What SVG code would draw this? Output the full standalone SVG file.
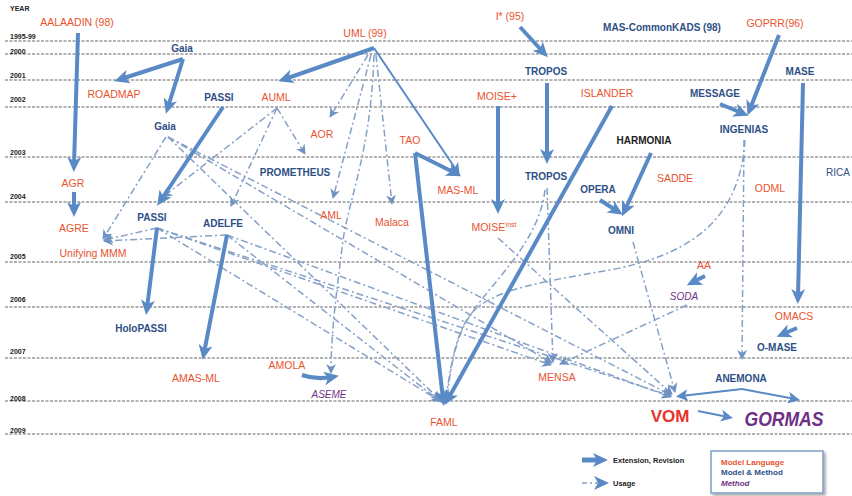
<svg xmlns="http://www.w3.org/2000/svg" width="852" height="496" viewBox="0 0 852 496">
  <style>
    .yr { stroke: #555; stroke-width: 0.9; stroke-dasharray: 3 1.5; fill: none; }
    .yl { font-family: "Liberation Sans", Arial, sans-serif; font-size: 7px; font-weight: bold; fill: #222; }
    .ml { font-family: "Liberation Sans", Arial, sans-serif; font-size: 10.5px; fill: #e8532f; text-anchor: middle; }
    .mm { font-family: "Liberation Sans", Arial, sans-serif; font-size: 10px; font-weight: bold; fill: #2e4f86; text-anchor: middle; }
    .mt { font-family: "Liberation Sans", Arial, sans-serif; font-size: 10px; font-style: italic; fill: #6f2f86; text-anchor: middle; }
    .bk { font-family: "Liberation Sans", Arial, sans-serif; font-size: 10px; font-weight: bold; fill: #222; text-anchor: middle; }
    .ext { stroke: #5a8ac6; stroke-width: 4; fill: none; marker-end: url(#ah); }
    .ext2 { stroke: #5a8ac6; stroke-width: 2; fill: none; marker-end: url(#ah2); }
    .use { stroke: #86a1c8; stroke-width: 1.5; stroke-dasharray: 7 3 2 3; fill: none; marker-end: url(#dh); }
    .lg { font-family: "Liberation Sans", Arial, sans-serif; font-size: 7.5px; font-weight: bold; fill: #222; }
    .lb { font-family: "Liberation Sans", Arial, sans-serif; font-size: 8px; font-weight: bold; }
  </style>
  <defs>
    <marker id="ah" markerUnits="userSpaceOnUse" markerWidth="16" markerHeight="14" refX="8" refY="7" orient="auto">
      <path d="M0,0 L15,7 L0,14 L4,7 z" fill="#5a8ac6"/>
    </marker>
    <marker id="ah2" markerUnits="userSpaceOnUse" markerWidth="13" markerHeight="12" refX="7" refY="6" orient="auto">
      <path d="M0,0 L12,6 L0,12 L3,6 z" fill="#5a8ac6"/>
    </marker>
    <marker id="dh" markerUnits="userSpaceOnUse" markerWidth="11" markerHeight="10" refX="9" refY="5" orient="auto">
      <path d="M0,0 L10,5 L0,10 L3,5 z" fill="#6f92c2"/>
    </marker>
    <filter id="sh" x="-10%" y="-10%" width="130%" height="130%">
      <feGaussianBlur in="SourceAlpha" stdDeviation="1.5"/>
      <feOffset dx="1.5" dy="1.5"/>
      <feComponentTransfer><feFuncA type="linear" slope="0.35"/></feComponentTransfer>
      <feMerge><feMergeNode/><feMergeNode in="SourceGraphic"/></feMerge>
    </filter>
  </defs>
  <rect width="852" height="496" fill="#fff"/>

  <!-- time axis -->
  <g id="years">
    <text class="yl" x="10" y="11">YEAR</text>
    <line class="yr" x1="5" y1="41" x2="852" y2="41"/>
    <line class="yr" x1="5" y1="54" x2="852" y2="54"/>
    <line class="yr" x1="5" y1="80" x2="852" y2="80"/>
    <line class="yr" x1="5" y1="107" x2="852" y2="107"/>
    <line class="yr" x1="5" y1="157" x2="852" y2="157"/>
    <line class="yr" x1="5" y1="202" x2="852" y2="202"/>
    <line class="yr" x1="5" y1="262" x2="852" y2="262"/>
    <line class="yr" x1="5" y1="307" x2="852" y2="307"/>
    <line class="yr" x1="5" y1="358" x2="852" y2="358"/>
    <line class="yr" x1="5" y1="401" x2="852" y2="401"/>
    <line class="yr" x1="5" y1="434" x2="852" y2="434"/>
    <text class="yl" x="10" y="39">1995-99</text>
    <text class="yl" x="10" y="54">2000</text>
    <text class="yl" x="10" y="78">2001</text>
    <text class="yl" x="10" y="102">2002</text>
    <text class="yl" x="10" y="155">2003</text>
    <text class="yl" x="10" y="199">2004</text>
    <text class="yl" x="10" y="259">2005</text>
    <text class="yl" x="10" y="302">2006</text>
    <text class="yl" x="10" y="354">2007</text>
    <text class="yl" x="10" y="401">2008</text>
    <text class="yl" x="10" y="433">2009</text>
  </g>

  <!-- connectors -->
  <g id="connectors">
    <!-- usage (dash-dot) -->
    <path class="use" d="M368,55 L330,117"/>
    <path class="use" d="M371,55 L333,198"/>
    <path class="use" d="M376,55 L392,204"/>
    <path class="use" d="M374,55 C371,150 350,195 343,240 C337,290 331,330 331,373"/>
    <path class="use" d="M277,108 L305,154"/>
    <path class="use" d="M277,108 L231,206"/>
    <path class="use" d="M277,108 L163,197"/>
    <path class="use" d="M166,137 L103,239"/>
    <path class="use" d="M168,137 L440,400"/>
    <path class="use" d="M168,137 L552,363"/>
    <path class="use" d="M168,137 L671,395"/>
    <path class="use" d="M157,228 L104,240"/>
    <path class="use" d="M157,228 L440,401"/>
    <path class="use" d="M157,228 L551,365"/>
    <path class="use" d="M157,228 L671,396"/>
    <path class="use" d="M227,235 L104,241"/>
    <path class="use" d="M227,235 L441,402"/>
    <path class="use" d="M227,235 L671,397"/>
    <path class="use" d="M498,238 L672,394"/>
    <path class="use" d="M547,188 L553,362"/>
    <path class="use" d="M633,242 L675,392"/>
    <path class="use" d="M687,305 L560,364"/>
    <path class="use" d="M744,140 L742,359"/>
    <path class="use" d="M745,140 C740,220 690,255 610,270 C540,282 490,290 470,315 C455,335 450,370 446,399"/>
    <path class="use" d="M545,190 C538,250 480,290 462,330 C452,355 449,380 447,399"/>

    <!-- extension / revision (solid) -->
    <path class="ext" d="M78,33 L74,165"/>
    <path class="ext" d="M74,192 L74,210"/>
    <path class="ext" d="M183,59 L121,79"/>
    <path class="ext" d="M183,59 L168,107"/>
    <path class="ext" d="M223,107 L161,200"/>
    <path class="ext" d="M374,48 L285,79"/>
    <path class="ext" d="M415,153 L455,173"/>
    <path class="ext" d="M415,153 L443,399"/>
    <path class="ext" d="M612,106 L448,399"/>
    <path class="ext" d="M520,27 L543,52"/>
    <path class="ext" d="M547,83 L547,157"/>
    <path class="ext" d="M498,106 L498,207"/>
    <path class="ext" d="M779,35 L750,109"/>
    <path class="ext" d="M720,104 L742,113"/>
    <path class="ext" d="M803,83 L798,297"/>
    <path class="ext" d="M797,328 L783,334"/>
    <path class="ext" d="M651,153 L625,210"/>
    <path class="ext" d="M600,200 L617,211"/>
    <path class="ext" d="M705,276 L693,282"/>
    <path class="ext" d="M157,228 L147,308"/>
    <path class="ext" d="M227,235 L204,353"/>
    <path class="ext" d="M302,375 Q316,380 332,377"/>
    <path class="ext2" d="M374,48 L457,171"/>
    <path class="ext2" d="M698,411 L728,417"/>
    <path class="ext2" d="M742,389 L681,396"/>
    <path class="ext2" d="M742,389 L795,399"/>
  </g>

  <!-- nodes -->
  <g id="n-aalaadin"><text class="ml" x="77" y="26">AALAADIN (98)</text></g>
  <g id="n-gaia"><text class="mm" x="182" y="52">Gaia</text></g>
  <g id="n-roadmap"><text class="ml" x="114" y="98">ROADMAP</text></g>
  <g id="n-passi"><text class="mm" x="219" y="101">PASSI</text></g>
  <g id="n-auml"><text class="ml" x="276" y="101">AUML</text></g>
  <g id="n-gaia2"><text class="mm" x="165" y="130">Gaia</text></g>
  <g id="n-uml"><text class="ml" x="365" y="37">UML (99)</text></g>
  <g id="n-istar"><text class="ml" x="510" y="20">I* (95)</text></g>
  <g id="n-tropos"><text class="mm" x="546" y="75">TROPOS</text></g>
  <g id="n-moiseplus"><text class="ml" x="497" y="100">MOISE+</text></g>
  <g id="n-aor"><text class="ml" x="322" y="138">AOR</text></g>
  <g id="n-tao"><text class="ml" x="410" y="144">TAO</text></g>
  <g id="n-commonkads"><text class="mm" x="662" y="31">MAS-CommonKADS (98)</text></g>
  <g id="n-goprr"><text class="ml" x="775" y="27">GOPRR(96)</text></g>
  <g id="n-mase"><text class="mm" x="800" y="75">MASE</text></g>
  <g id="n-islander"><text class="ml" x="607" y="97">ISLANDER</text></g>
  <g id="n-message"><text class="mm" x="715" y="97">MESSAGE</text></g>
  <g id="n-ingenias"><text class="mm" x="744" y="133">INGENIAS</text></g>
  <g id="n-harmonia"><text class="bk" x="644" y="144">HARMONIA</text></g>
  <g id="n-rica"><text class="mm" x="838" y="176" style="font-weight:normal">RICA</text></g>
  <g id="n-sadde"><text class="ml" x="675" y="182">SADDE</text></g>
  <g id="n-odml"><text class="ml" x="770" y="192">ODML</text></g>
  <g id="n-opera"><text class="mm" x="598" y="193">OPERA</text></g>
  <g id="n-omni"><text class="mm" x="621" y="234">OMNI</text></g>
  <g id="n-aa"><text class="ml" x="704" y="269">AA</text></g>
  <g id="n-soda"><text class="mt" x="684" y="300">SODA</text></g>
  <g id="n-omacs"><text class="ml" x="794" y="320">OMACS</text></g>
  <g id="n-omase"><text class="mm" x="777" y="351">O-MASE</text></g>
  <g id="n-anemona"><text class="mm" x="741" y="382">ANEMONA</text></g>
  <g id="n-agr"><text class="ml" x="73" y="187">AGR</text></g>
  <g id="n-agre"><text class="ml" x="74" y="232">AGRE</text></g>
  <g id="n-unifying"><text class="ml" x="93" y="257">Unifying MMM</text></g>
  <g id="n-passi2"><text class="mm" x="152" y="221">PASSI</text></g>
  <g id="n-adelfe"><text class="mm" x="223" y="227">ADELFE</text></g>
  <g id="n-prometheus"><text class="mm" x="295" y="176">PROMETHEUS</text></g>
  <g id="n-holopassi"><text class="mm" x="141" y="332">HoloPASSI</text></g>
  <g id="n-amasml"><text class="ml" x="196" y="382">AMAS-ML</text></g>
  <g id="n-amola"><text class="ml" x="287" y="369">AMOLA</text></g>
  <g id="n-aseme"><text class="mt" x="329" y="398">ASEME</text></g>
  <g id="n-aml"><text class="ml" x="331" y="219">AML</text></g>
  <g id="n-malaca"><text class="ml" x="392" y="226">Malaca</text></g>
  <g id="n-masml"><text class="ml" x="458" y="194">MAS-ML</text></g>
  <g id="n-tropos2"><text class="mm" x="546" y="180">TROPOS</text></g>
  <g id="n-moiseinst"><text class="ml" x="494" y="231">MOISE<tspan font-size="7" dy="-4">Inst</tspan></text></g>
  <g id="n-faml"><text class="ml" x="444" y="426">FAML</text></g>
  <g id="n-mensa"><text class="ml" x="557" y="381">MENSA</text></g>
  <g id="n-vom"><text class="ml" x="670" y="422" style="font-size:17px;font-weight:bold;fill:#e8322a">VOM</text></g>
  <g id="n-gormas"><text class="mt" x="784" y="426" style="font-size:20px;font-weight:bold" textLength="79" lengthAdjust="spacingAndGlyphs">GORMAS</text></g>

  <!-- legend -->
  <g id="legend">
    <path d="M582,460 L601,460" stroke="#5a8ac6" stroke-width="5" fill="none" marker-end="url(#ah)"/>
    <text class="lg" x="613" y="463">Extension, Revision</text>
    <path d="M582,483 L600,483" stroke="#86a1c8" stroke-width="1.5" stroke-dasharray="5 3 2 3" fill="none"/>
    <path d="M599,483 L602,483" stroke="#5a8ac6" stroke-width="4" fill="none" marker-end="url(#ah)"/>
    <text class="lg" x="613" y="486">Usage</text>
    <rect x="711" y="451" width="112" height="42" fill="#fff" stroke="#7f9fc6" stroke-width="1.5" filter="url(#sh)"/>
    <text class="lb" x="721" y="465" fill="#e8532f">Model Language</text>
    <text class="lb" x="721" y="475" fill="#2e4f86">Model &amp; Method</text>
    <text class="lb" x="721" y="486" fill="#6f2f86" font-style="italic">Method</text>
  </g>
</svg>
